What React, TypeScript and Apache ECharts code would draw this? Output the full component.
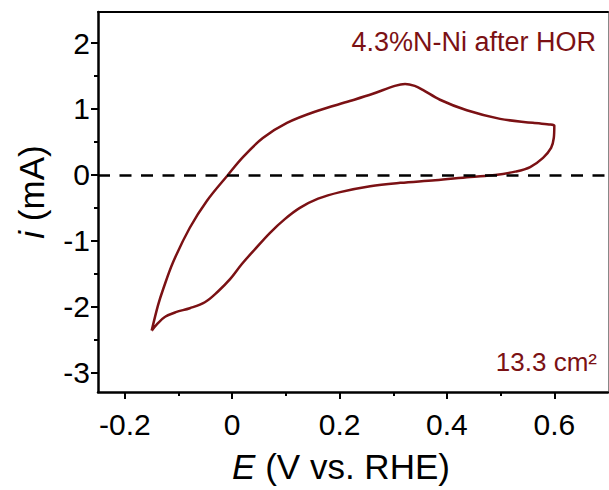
import React, { useEffect, useRef } from "react";
import * as echarts from "echarts";

// Anodic (upper) branch: E (V vs. RHE), i (mA)
const upperE = [-0.15, -0.138, -0.129, -0.11, -0.079, -0.047, -0.008, 0.02, 0.057, 0.102, 0.158, 0.219, 0.262, 0.303, 0.322, 0.34, 0.355, 0.387, 0.437, 0.499, 0.56, 0.6];
const upperI = [-2.36, -1.97, -1.74, -1.32, -0.8, -0.39, 0.0, 0.27, 0.56, 0.79, 0.97, 1.12, 1.23, 1.35, 1.38, 1.35, 1.29, 1.14, 0.98, 0.85, 0.79, 0.75];
// Cathodic (lower) branch, from the right vertex back to the left vertex
const lowerE = [0.6, 0.599, 0.594, 0.579, 0.555, 0.527, 0.49, 0.443, 0.378, 0.313, 0.257, 0.201, 0.16, 0.126, 0.098, 0.07, 0.043, 0.018, -0.004, -0.027, -0.051, -0.079, -0.105, -0.125, -0.14, -0.15];
const lowerI = [0.74, 0.56, 0.41, 0.26, 0.12, 0.05, 0.0, -0.03, -0.08, -0.12, -0.17, -0.26, -0.36, -0.5, -0.67, -0.88, -1.12, -1.35, -1.58, -1.77, -1.93, -2.02, -2.08, -2.15, -2.26, -2.36];

const xMajorTicks = [-0.2, 0, 0.2, 0.4, 0.6];
const xMinorTicks = [-0.1, 0.1, 0.3, 0.5];
const yMajorTicks = [-3, -2, -1, 0, 1, 2];
const yMinorTicks = [-2.5, -1.5, -0.5, 0.5, 1.5];

const sampleLabel = "4.3%N-Ni after HOR";
const areaLabel = "13.3 cm²";

const RED = "#7b1114";
const FONT = "Liberation Sans, Arial, sans-serif";

export default function App() {
  const ref = useRef<HTMLDivElement>(null);
  useEffect(() => {
    if (!ref.current) return;
    const chart = echarts.init(ref.current, undefined, { renderer: "svg" });
    const data: number[][] = [];
    upperE.forEach((e, k) => data.push([e, upperI[k]]));
    lowerE.forEach((e, k) => data.push([e, lowerI[k]]));

    const xMin = -0.25, xMax = 0.7, yMin = -3.29, yMax = 2.47;
    const fmt = (v: number) => (Math.abs(v) < 1e-9 ? "0" : String(Math.round(v * 10) / 10));

    chart.setOption({
      animation: false,
      backgroundColor: "#fff",
      grid: { left: 98, top: 12, right: 1, bottom: 98, containLabel: false },
      xAxis: [
        {
          type: "value", min: xMin, max: xMax, position: "bottom",
          axisLine: { show: true, onZero: false, lineStyle: { color: "#000", width: 2.5 } },
          axisTick: { show: true, inside: false, length: 7, customValues: xMajorTicks, lineStyle: { color: "#000", width: 2 } },
          axisLabel: { show: true, customValues: xMajorTicks, formatter: fmt, margin: 17, fontSize: 30, color: "#000", fontFamily: FONT },
          splitLine: { show: false },
        },
        {
          type: "value", min: xMin, max: xMax, position: "bottom",
          axisLine: { show: false, onZero: false },
          axisTick: { show: true, inside: false, length: 4, customValues: xMinorTicks, lineStyle: { color: "#000", width: 2 } },
          axisLabel: { show: false },
          splitLine: { show: false },
        },
        {
          type: "value", min: xMin, max: xMax, position: "top",
          axisLine: { show: true, onZero: false, lineStyle: { color: "#000", width: 2 } },
          axisTick: { show: false }, axisLabel: { show: false }, splitLine: { show: false },
        },
      ],
      yAxis: [
        {
          type: "value", min: yMin, max: yMax, position: "left",
          axisLine: { show: true, onZero: false, lineStyle: { color: "#000", width: 2.5 } },
          axisTick: { show: true, inside: false, length: 7, customValues: yMajorTicks, lineStyle: { color: "#000", width: 2 } },
          axisLabel: { show: true, customValues: yMajorTicks, formatter: fmt, margin: 8, fontSize: 30, color: "#000", fontFamily: FONT },
          splitLine: { show: false },
        },
        {
          type: "value", min: yMin, max: yMax, position: "left",
          axisLine: { show: false, onZero: false },
          axisTick: { show: true, inside: false, length: 4, customValues: yMinorTicks, lineStyle: { color: "#000", width: 2 } },
          axisLabel: { show: false }, splitLine: { show: false },
        },
        {
          type: "value", min: yMin, max: yMax, position: "right",
          axisLine: { show: true, onZero: false, lineStyle: { color: "#888", width: 1 } },
          axisTick: { show: false }, axisLabel: { show: false }, splitLine: { show: false },
        },
      ],
      series: [
        {
          type: "line",
          xAxisIndex: 0,
          yAxisIndex: 0,
          data,
          showSymbol: false,
          smooth: 0.35,
          lineStyle: { color: RED, width: 2.5 },
          markLine: {
            silent: true,
            symbol: ["none", "none"],
            label: { show: false },
            lineStyle: { color: "#000", width: 2.5, type: [12, 9.5] },
            data: [{ yAxis: 0 }],
          },
          z: 3,
        },
      ],
      graphic: [
        {
          type: "text",
          x: 341, y: 466,
          style: {
            text: "{i|E} (V vs. RHE)",
            fill: "#000",
            font: `35px ${FONT}`,
            align: "center",
            verticalAlign: "middle",
            rich: { i: { fontStyle: "italic", fontSize: 35, fontFamily: FONT, fill: "#000" } },
          },
        },
        {
          type: "text",
          x: 31, y: 192, rotation: Math.PI / 2,
          style: {
            text: "{i|i} (mA)",
            fill: "#000",
            font: `35px ${FONT}`,
            align: "center",
            verticalAlign: "middle",
            rich: { i: { fontStyle: "italic", fontSize: 35, fontFamily: FONT, fill: "#000" } },
          },
        },
        {
          type: "text", x: 596, y: 42,
          style: { text: sampleLabel, fill: RED, font: `27px ${FONT}`, align: "right", verticalAlign: "middle" },
        },
        {
          type: "text", x: 597, y: 362,
          style: { text: areaLabel, fill: RED, font: `26px ${FONT}`, align: "right", verticalAlign: "middle" },
        },
      ],
    });
    return () => chart.dispose();
  }, []);
  return <div ref={ref} style={{ position: "fixed", left: 0, top: 0, width: 609, height: 490 }} />;
}
